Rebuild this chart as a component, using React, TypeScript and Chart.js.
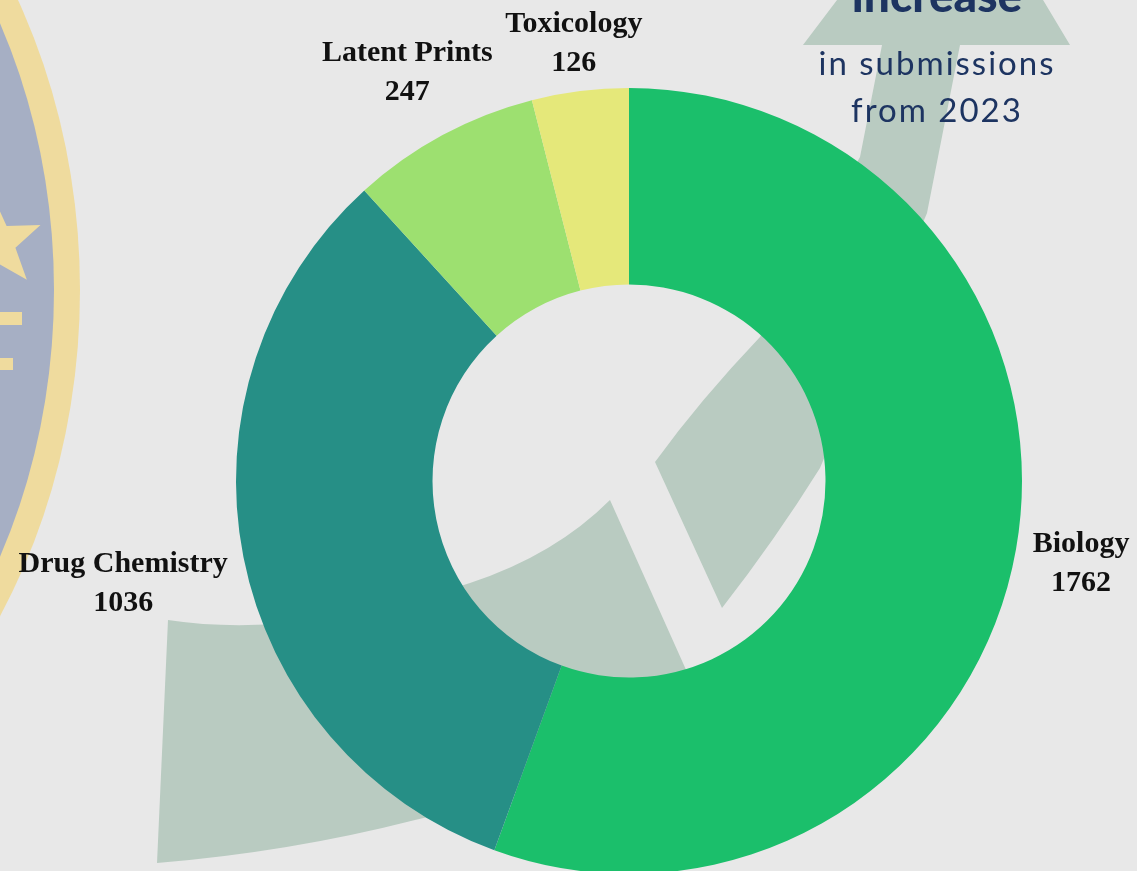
import React, { useEffect, useRef } from "react";
import { Chart, registerables } from "chart.js";

Chart.register(...registerables);

const categories = ["Biology", "Drug Chemistry", "Latent Prints", "Toxicology"];
const submissions = [1762, 1036, 247, 126];
const sliceColors = ["#1bbf6b", "#268f86", "#9de070", "#e5e87a"];
const labelOffsets = [17, 16, 31, 12];

const BG = "#e8e8e8";
const ARROW = "#b9cbc1";
const NAVY = "#1d3461";

const backgroundPlugin = {
  id: "bgDecor",
  beforeDraw(chart: any) {
    const ctx = chart.ctx as CanvasRenderingContext2D;
    ctx.save();
    ctx.fillStyle = BG;
    ctx.fillRect(0, 0, chart.width, chart.height);

    // seal on the left
    ctx.fillStyle = "#efdb9e";
    ctx.beginPath();
    ctx.ellipse(-400, 290, 480, 590, 0, 0, Math.PI * 2);
    ctx.fill();
    ctx.fillStyle = "#a6afc4";
    ctx.beginPath();
    ctx.ellipse(-400, 290, 454, 564, 0, 0, Math.PI * 2);
    ctx.fill();
    // star
    ctx.fillStyle = "#efdb9e";
    ctx.beginPath();
    const scx = -4, scy = 243, ro = 48, ri = 20, rot = -22 * Math.PI / 180;
    for (let i = 0; i < 10; i++) {
      const r = i % 2 === 0 ? ro : ri;
      const a = rot + (i * Math.PI) / 5;
      const px = scx + r * Math.cos(a);
      const py = scy + r * Math.sin(a);
      if (i === 0) ctx.moveTo(px, py); else ctx.lineTo(px, py);
    }
    ctx.closePath();
    ctx.fill();
    ctx.fillRect(0, 312, 22, 13);
    ctx.fillRect(0, 358, 13, 12);

    // curved arrow (tail + lower piece)
    ctx.fillStyle = ARROW;
    ctx.beginPath();
    ctx.moveTo(168, 620);
    ctx.quadraticCurveTo(300, 640, 470, 583);
    ctx.quadraticCurveTo(555, 555, 610, 500);
    ctx.lineTo(700, 701);
    ctx.quadraticCurveTo(560, 790, 415, 820);
    ctx.quadraticCurveTo(290, 852, 157, 863);
    ctx.closePath();
    ctx.fill();

    // upper piece + shaft + head
    ctx.beginPath();
    ctx.moveTo(655, 462);
    ctx.lineTo(722, 608);
    ctx.quadraticCurveTo(775, 540, 820, 468);
    ctx.lineTo(927, 213);
    ctx.lineTo(960, 45);
    ctx.lineTo(1070, 45);
    ctx.lineTo(952, -152);
    ctx.lineTo(803, 45);
    ctx.lineTo(882, 45);
    ctx.lineTo(860, 157);
    ctx.lineTo(760, 337);
    ctx.quadraticCurveTo(700, 400, 655, 462);
    ctx.closePath();
    ctx.fill();

    // texts
    ctx.fillStyle = NAVY;
    ctx.textAlign = "center";
    ctx.textBaseline = "alphabetic";
    ctx.font = "900 46px Lato";
    ctx.fillText("increase", 937, 12);
    ctx.font = "400 33px Lato";
    (ctx as any).letterSpacing = "2px";
    ctx.fillText("in submissions", 937, 75);
    ctx.fillText("from 2023", 937, 122);
    (ctx as any).letterSpacing = "0px";
    ctx.restore();
  },
};

const labelPlugin = {
  id: "sliceLabels",
  afterDatasetsDraw(chart: any) {
    const ctx = chart.ctx as CanvasRenderingContext2D;
    const meta = chart.getDatasetMeta(0);
    const values = chart.data.datasets[0].data as number[];
    const names = chart.data.labels as string[];
    ctx.save();
    ctx.font = "bold 30px 'Liberation Serif'";
    ctx.fillStyle = "#111111";
    ctx.textAlign = "center";
    ctx.textBaseline = "middle";
    const lineH = 39;
    meta.data.forEach((arc: any, i: number) => {
      const p = arc.getProps(["x", "y", "startAngle", "endAngle", "outerRadius"], true);
      const mid = (p.startAngle + p.endAngle) / 2;
      const vx = Math.cos(mid);
      const vy = Math.sin(mid);
      const l1 = names[i];
      const l2 = String(values[i]);
      const w = Math.max(ctx.measureText(l1).width, ctx.measureText(l2).width);
      const h = 76;
      const half = Math.min(
        Math.abs(vx) > 1e-6 ? w / 2 / Math.abs(vx) : Infinity,
        Math.abs(vy) > 1e-6 ? h / 2 / Math.abs(vy) : Infinity
      );
      const d = p.outerRadius + labelOffsets[i] + half;
      const cx = p.x + vx * d;
      const cy = p.y + vy * d + 3;
      ctx.fillText(l1, cx, cy - lineH / 2);
      ctx.fillText(l2, cx, cy + lineH / 2);
    });
    ctx.restore();
  },
};

export default function App() {
  const ref = useRef<HTMLCanvasElement | null>(null);
  useEffect(() => {
    document.body.style.overflow = "hidden";
    document.body.style.margin = "0";
    const canvas = ref.current!;
    const chart = new Chart(canvas, {
      type: "doughnut",
      data: {
        labels: categories,
        datasets: [
          {
            data: submissions,
            backgroundColor: sliceColors,
            borderWidth: 0,
            hoverOffset: 0,
          },
        ],
      },
      options: {
        animation: false,
        responsive: false,
        cutout: "50%",
        layout: { padding: { left: 236, right: 115, top: 88, bottom: 26 } },
        plugins: {
          legend: { display: false },
          tooltip: { enabled: false },
        },
        events: [],
      },
      plugins: [backgroundPlugin, labelPlugin],
    });
    return () => chart.destroy();
  }, []);
  return (
    <div style={{ position: "fixed", left: 0, top: 0, width: 1137, height: 900, overflow: "hidden" }}>
      <canvas ref={ref} width={1137} height={900} style={{ width: 1137, height: 900, display: "block" }} />
    </div>
  );
}
